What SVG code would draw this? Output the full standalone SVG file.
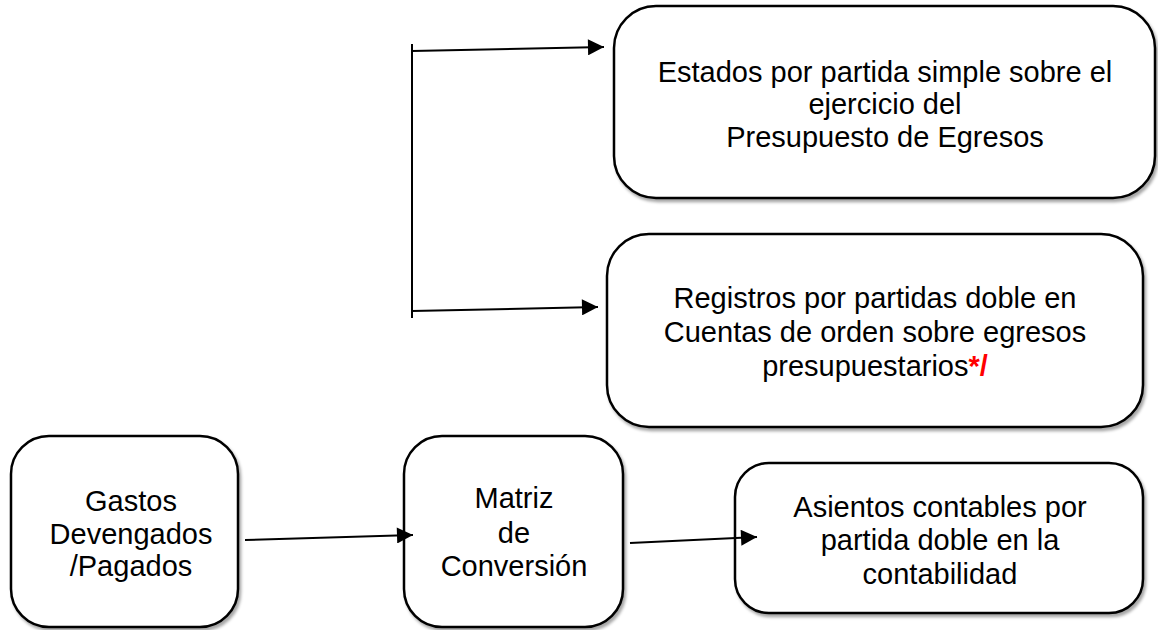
<svg xmlns="http://www.w3.org/2000/svg" width="1158" height="630" viewBox="0 0 1158 630">
<defs>
<marker id="ah" viewBox="0 0 10 10" refX="10" refY="5" markerWidth="18" markerHeight="16" markerUnits="userSpaceOnUse" orient="auto"><path d="M0,0 L10,5 L0,10 z" fill="#000"/></marker>
<filter id="sh" x="-5%" y="-5%" width="110%" height="115%"><feDropShadow dx="2" dy="3" stdDeviation="1.5" flood-color="#000" flood-opacity="0.35"/></filter>
</defs>
<style>
.box{fill:#fff;stroke:#000;stroke-width:2.5;filter:url(#sh)}
.t{font-family:"Liberation Sans",Arial,sans-serif;font-size:29px;fill:#000;text-anchor:middle}
.c{stroke:#000;stroke-width:2;fill:none}
.red{fill:#ff0000;font-weight:bold}
</style>
<rect width="1158" height="630" fill="#fff"/>
<g id="n1"><rect class="box" x="614" y="6" width="541" height="192" rx="42"/>
<text class="t" x="885" y="82">Estados por partida simple sobre el</text>
<text class="t" x="885" y="114">ejercicio del</text>
<text class="t" x="885" y="147">Presupuesto de Egresos</text></g>
<g id="n2"><rect class="box" x="607" y="234" width="536" height="193" rx="42"/>
<text class="t" x="875" y="308">Registros por partidas doble en</text>
<text class="t" x="875" y="342">Cuentas de orden sobre egresos</text>
<text class="t" x="875" y="376">presupuestarios<tspan class="red">*/</tspan></text></g>
<g id="n3"><rect class="box" x="11" y="436" width="227" height="191" rx="38"/>
<text class="t" x="131" y="511">Gastos</text>
<text class="t" x="131" y="544">Devengados</text>
<text class="t" x="131" y="576">/Pagados</text></g>
<g id="n4"><rect class="box" x="404" y="436" width="219" height="191" rx="38"/>
<text class="t" x="514" y="508">Matriz</text>
<text class="t" x="514" y="543">de</text>
<text class="t" x="514" y="576">Conversión</text></g>
<g id="n5"><rect class="box" x="735" y="463" width="408" height="150" rx="34"/>
<text class="t" x="940" y="517">Asientos contables por</text>
<text class="t" x="940" y="550">partida doble en la</text>
<text class="t" x="940" y="584">contabilidad</text></g>
<g id="connectors">
<line class="c" x1="412" y1="44" x2="412" y2="318"/>
<line class="c" x1="412" y1="51" x2="604" y2="47" marker-end="url(#ah)"/>
<line class="c" x1="412" y1="311" x2="598" y2="307" marker-end="url(#ah)"/>
<line class="c" x1="245" y1="540" x2="413" y2="535" marker-end="url(#ah)"/>
<line class="c" x1="630" y1="543" x2="757" y2="537" marker-end="url(#ah)"/>
</g>
</svg>
